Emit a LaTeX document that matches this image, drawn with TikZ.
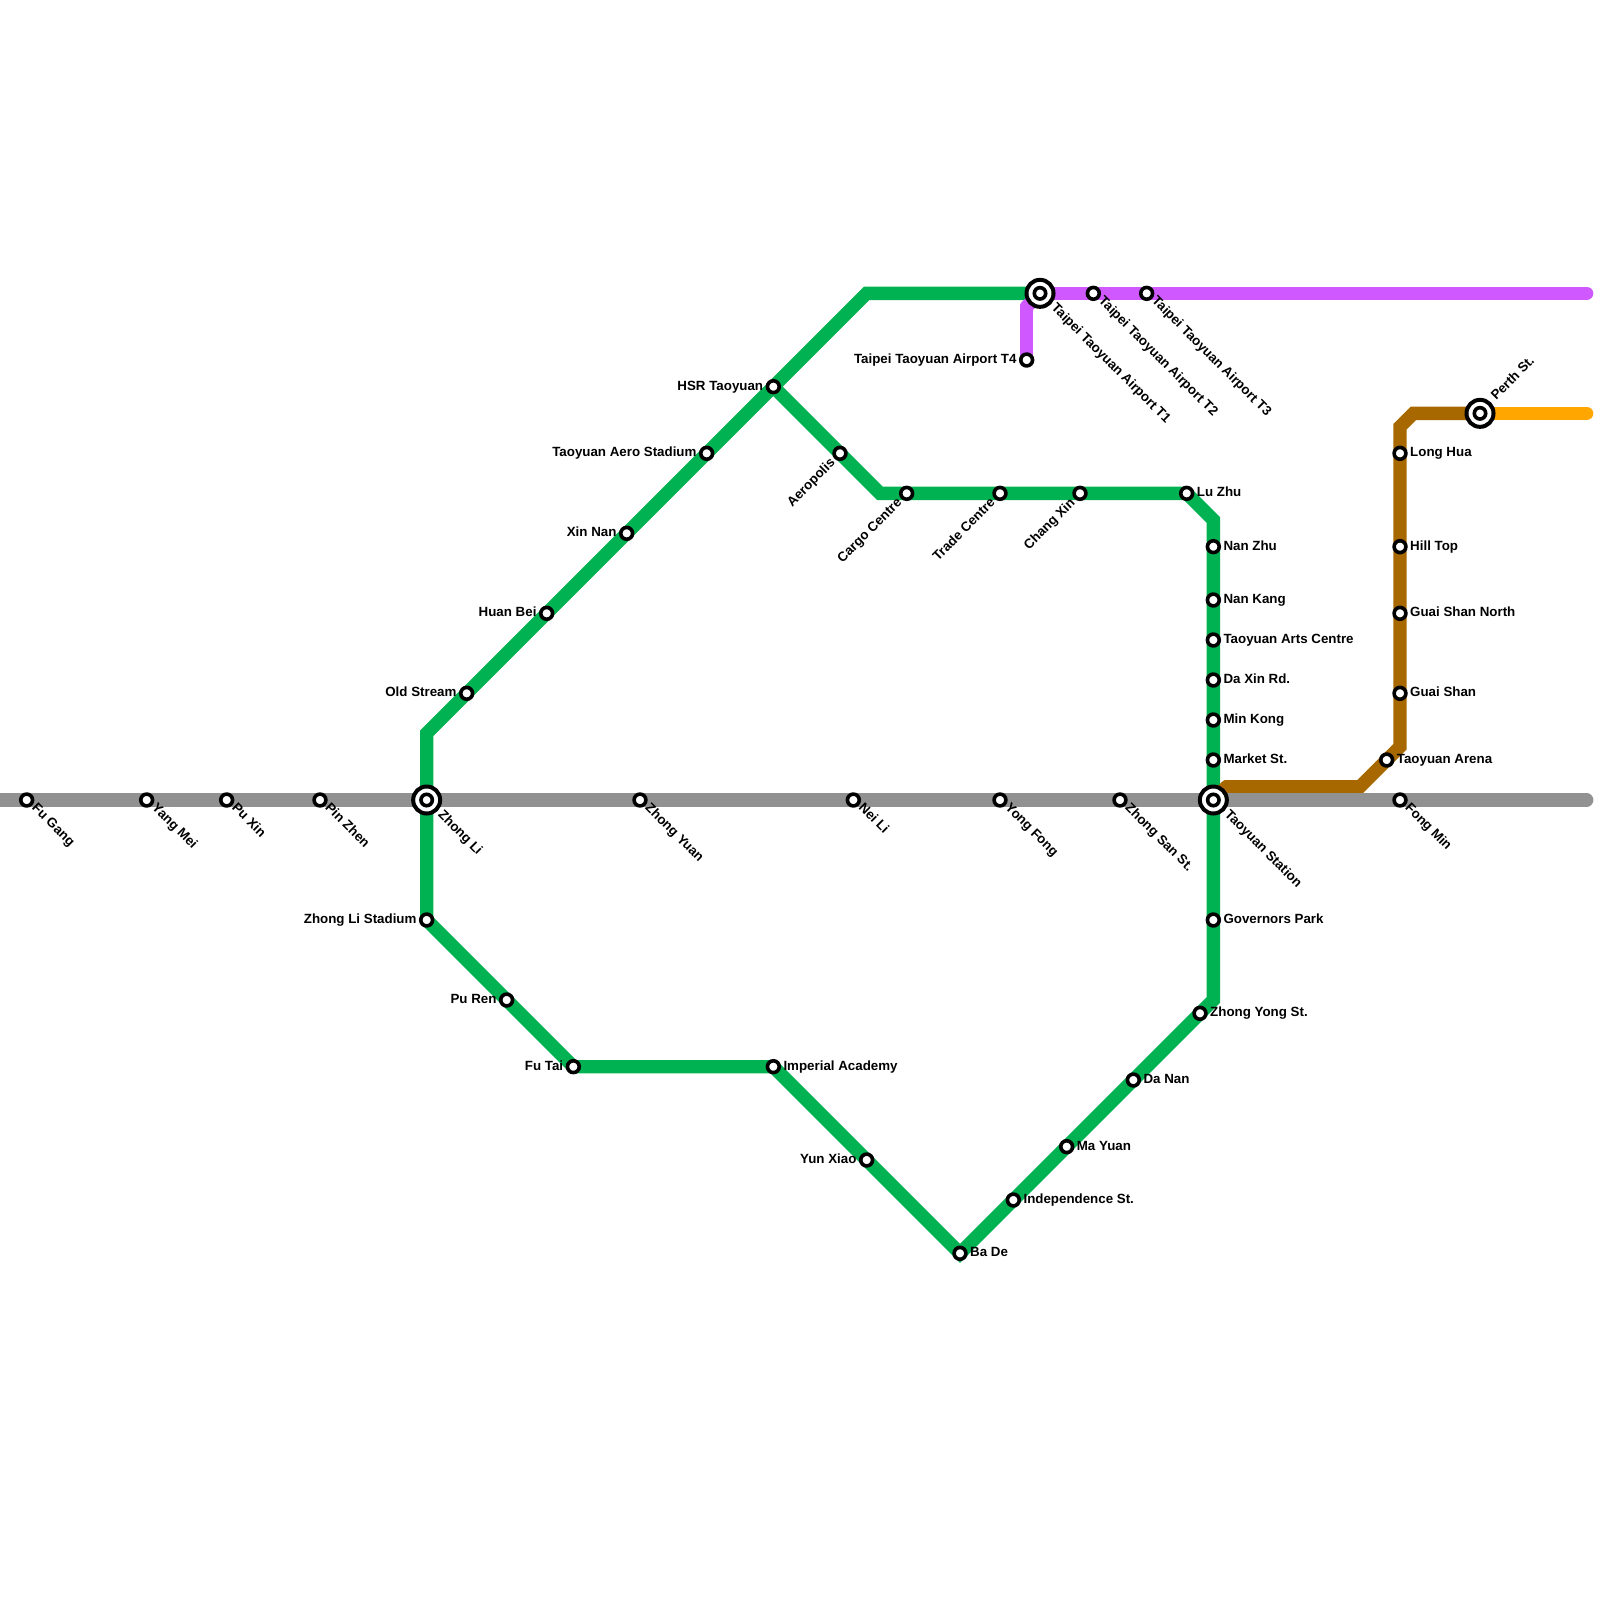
\documentclass[tikz,border=0pt]{standalone}
\usepackage{fontspec}
\setmainfont{Liberation Sans}[BoldFont={Liberation Sans Bold}]
\usetikzlibrary{backgrounds}
\definecolor{cgreen}{HTML}{00B251}
\definecolor{cgray}{HTML}{919191}
\definecolor{cpurple}{HTML}{CF59FF}
\definecolor{cbrown}{HTML}{A86800}
\definecolor{corange}{HTML}{FFA700}
\tikzset{
  stat/.style={circle,draw=black,fill=white,line width=3.6pt,minimum size=11.8pt,inner sep=0pt},
  hub/.style={circle,draw=black,fill=white,line width=4pt,minimum size=27pt,inner sep=0pt},
  hubcore/.style={circle,draw=black,fill=white,line width=3.6pt,minimum size=11.4pt,inner sep=0pt},
  route/.style={line width=13.33pt,line cap=round,line join=miter},
  greenroute/.style={route,draw=cgreen},
  grayroute/.style={route,draw=cgray},
  purpleroute/.style={route,draw=cpurple},
  brownroute/.style={route,draw=cbrown},
  orangeroute/.style={route,draw=corange},
  lbl/.style={inner sep=0pt,font=\bfseries\fontsize{13.33pt}{14pt}\selectfont,text=black,text height=9.5pt,text depth=2.8pt},
  lblR/.style={lbl,anchor=west,xshift=10pt,yshift=0pt},
  lblL/.style={lbl,anchor=east,xshift=-10pt,yshift=0pt},
  lblDR/.style={lbl,rotate=-45,anchor=west,xshift=9.2pt,yshift=0.6pt},
  lblHDR/.style={lbl,rotate=-45,anchor=west,xshift=18.5pt,yshift=0pt},
  lblDL/.style={lbl,rotate=45,anchor=east,xshift=-10.1pt,yshift=-0.9pt},
  lblHUR/.style={lbl,rotate=45,anchor=west,xshift=20.3pt,yshift=0.8pt},
}
\newcommand{\stn}[4]{\node[stat] (#2) at (#3) {}; \node[#1] (#2-l) at (#2) {#4};}
\newcommand{\hubst}[4]{\node[hub] (#2) at (#3) {}; \node[hubcore] (#2-c) at (#2) {}; \node[#1] (#2-l) at (#2) {#4};}
\begin{document}
\begin{tikzpicture}[x=13.3333pt,y=-13.3333pt]
\useasboundingbox (0,0) rectangle (120,120);
% bends and free ends
\coordinate (gA) at (32,55);
\coordinate (gB) at (65,22);
\coordinate (gC) at (66,37);
\coordinate (gD) at (91,39);
\coordinate (gE) at (91,75);
\coordinate (gF) at (43,80);
\coordinate (yL) at (-1,60);
\coordinate (yR) at (119,60);
\coordinate (pR) at (119,22);
\coordinate (pB) at (77,23);
\coordinate (bA) at (92,59);
\coordinate (bB) at (102,59);
\coordinate (bC) at (105,56);
\coordinate (bD) at (105,32);
\coordinate (bE) at (106,31);
\coordinate (oR) at (119,31);
% gray line
\stn{lblDR}{fugang}{2,60}{Fu Gang}
\stn{lblDR}{yangmei}{11,60}{Yang Mei}
\stn{lblDR}{puxin}{17,60}{Pu Xin}
\stn{lblDR}{pinzhen}{24,60}{Pin Zhen}
\hubst{lblHDR}{zhongli}{32,60}{Zhong Li}
\stn{lblDR}{zhongyuan}{48,60}{Zhong Yuan}
\stn{lblDR}{neili}{64,60}{Nei Li}
\stn{lblDR}{yongfong}{75,60}{Yong Fong}
\stn{lblDR}{zhongsan}{84,60}{Zhong San St.}
\hubst{lblHDR}{taoyuan}{91,60}{Taoyuan Station}
\stn{lblDR}{fongmin}{105,60}{Fong Min}
% green line
\stn{lblL}{oldstream}{35,52}{Old Stream}
\stn{lblL}{huanbei}{41,46}{Huan Bei}
\stn{lblL}{xinnan}{47,40}{Xin Nan}
\stn{lblL}{aero}{53,34}{Taoyuan Aero Stadium}
\stn{lblL}{hsr}{58,29}{HSR Taoyuan}
\stn{lblDL}{aeropolis}{63,34}{Aeropolis}
\stn{lblDL}{cargo}{68,37}{Cargo Centre}
\stn{lblDL}{trade}{75,37}{Trade Centre}
\stn{lblDL}{changxin}{81,37}{Chang Xin}
\stn{lblR}{luzhu}{89,37}{Lu Zhu}
\stn{lblR}{nanzhu}{91,41}{Nan Zhu}
\stn{lblR}{nankang}{91,45}{Nan Kang}
\stn{lblR}{arts}{91,48}{Taoyuan Arts Centre}
\stn{lblR}{daxin}{91,51}{Da Xin Rd.}
\stn{lblR}{minkong}{91,54}{Min Kong}
\stn{lblR}{market}{91,57}{Market St.}
\stn{lblR}{governors}{91,69}{Governors Park}
\stn{lblR}{zhongyong}{90,76}{Zhong Yong St.}
\stn{lblR}{danan}{85,81}{Da Nan}
\stn{lblR}{mayuan}{80,86}{Ma Yuan}
\stn{lblR}{independence}{76,90}{Independence St.}
\stn{lblR}{bade}{72,94}{Ba De}
\stn{lblL}{yunxiao}{65,87}{Yun Xiao}
\stn{lblR}{imperial}{58,80}{Imperial Academy}
\stn{lblL}{futai}{43,80}{Fu Tai}
\stn{lblL}{puren}{38,75}{Pu Ren}
\stn{lblL}{stadium}{32,69}{Zhong Li Stadium}
% purple line
\hubst{lblHDR}{tone}{78,22}{Taipei Taoyuan Airport T1}
\stn{lblDR}{ttwo}{82,22}{Taipei Taoyuan Airport T2}
\stn{lblDR}{tthree}{86,22}{Taipei Taoyuan Airport T3}
\stn{lblL}{tfour}{77,27}{Taipei Taoyuan Airport T4}
% brown and orange lines
\stn{lblR}{longhua}{105,34}{Long Hua}
\stn{lblR}{hilltop}{105,41}{Hill Top}
\stn{lblR}{guainorth}{105,46}{Guai Shan North}
\stn{lblR}{guaishan}{105,52}{Guai Shan}
\stn{lblR}{arena}{104,57}{Taoyuan Arena}
\hubst{lblHUR}{perth}{111,31}{Perth St.}
\begin{scope}[on background layer]
  \fill[white] (0,0) rectangle (120,120);
  \draw[greenroute] (zhongli.center) -- (gA) -- (gB) -- (tone.center);
  \draw[greenroute] (hsr.center) -- (gC) -- (cargo.center) -- (luzhu.center) -- (gD) -- (taoyuan.center);
  \draw[greenroute] (taoyuan.center) -- (gE) -- (bade.center) -- (imperial.center) -- (gF) -- (stadium.center) -- (zhongli.center);
  \draw[brownroute] (taoyuan.center) -- (bA);
  \draw[brownroute] (bA) -- (bB) -- (bC) -- (bD) -- (bE) -- (perth.center);
  \draw[orangeroute] (perth.center) -- (oR);
  \draw[purpleroute] (tone.center) -- (pR);
  \draw[purpleroute] (tone.center) -- (pB);
  \draw[purpleroute] (pB) -- (tfour.center);
  \draw[grayroute] (yL) -- (yR);
\end{scope}
\end{tikzpicture}
\end{document}
